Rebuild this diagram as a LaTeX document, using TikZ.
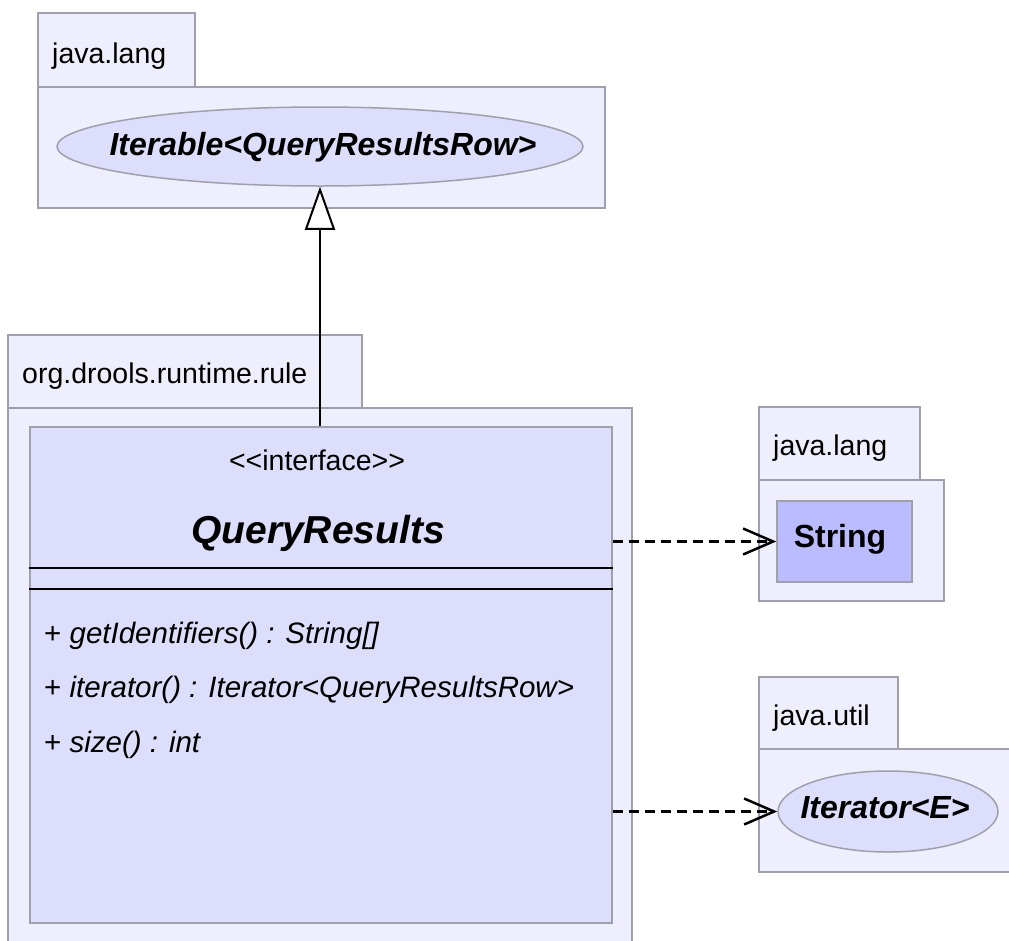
\documentclass[tikz,border=0pt]{standalone}
\usepackage{fontspec}
\setmainfont{Liberation Sans}
\usetikzlibrary{arrows.meta,shapes.geometric}
\definecolor{pkgfill}{RGB}{238,238,252}
\definecolor{pkgline}{RGB}{160,160,172}
\definecolor{clsfill}{RGB}{221,221,252}
\definecolor{strfill}{RGB}{187,187,255}
\begin{document}
\begin{tikzpicture}[x=1pt,y=-1pt,
  pkg/.style={draw=pkgline,fill=pkgfill,line width=1.5pt},
  lbl/.style={anchor=base west,inner sep=0pt,font=\fontsize{28.5}{34}\selectfont},
  mtxt/.style={anchor=base west,inner sep=0pt,font=\fontsize{29.5}{35}\selectfont},
  smalltxt/.style={inner sep=0pt,font=\fontsize{28.5}{34}\selectfont},
  bigtxt/.style={font=\fontsize{32}{38}\selectfont\bfseries\itshape},
  ell/.style={ellipse,draw=pkgline,fill=clsfill,line width=1.5pt,inner sep=0pt},
  clsbox/.style={rectangle,draw=pkgline,fill=clsfill,line width=1.5pt,inner sep=0pt},
  dep/.style={draw=black,line width=2.2pt,dash pattern=on 10pt off 6pt,-{Straight Barb[length=30pt,width=26pt,line width=2.5pt]}},
  gen/.style={draw=black,line width=2pt,-{Triangle[open,length=43pt,width=30pt,line width=2pt,fill=white]}}
]
\useasboundingbox (0,0) rectangle (1009,940);
\clip (0,0) rectangle (1009,940);
% top package java.lang
\draw[pkg] (38,13) rectangle (195,87);
\draw[pkg] (38,87) rectangle (605,208);
\node[lbl] (l1) at (52,63) {java.lang};
\node[ell,minimum width=526pt,minimum height=79pt] (iterable) at (320,146.5) {};
\node[bigtxt,anchor=base] (iterabletxt) at (323,155) {Iterable{<}QueryResultsRow{>}};
% package org.drools.runtime.rule
\draw[pkg] (8,335) rectangle (362,408);
\draw[pkg] (8,408) rectangle (632,960);
\node[lbl] (l2) at (22,383) {org.drools.runtime.rule};
\node[clsbox,minimum width=582pt,minimum height=496pt] (qr) at (321,675) {};
\node[smalltxt,anchor=base] (stereo) at (317,470) {{<}{<}interface{>}{>}};
\node[anchor=base,inner sep=0pt,font=\fontsize{39}{46}\selectfont\bfseries\itshape] (qrname) at (318,543) {QueryResults};
\draw[line width=2pt] (qr.west |- 0,568) -- (qr.east |- 0,568);
\draw[line width=2pt] (qr.west |- 0,589) -- (qr.east |- 0,589);
\node[mtxt] (m1) at (44,643) {+ \textit{getIdentifiers() : String[]}};
\node[mtxt] (m2) at (44,697) {+ \textit{iterator() : Iterator{<}QueryResultsRow{>}}};
\node[mtxt] (m3) at (44,752) {+ \textit{size() : int}};
% java.lang (String)
\draw[pkg] (759,407) rectangle (920,480);
\draw[pkg] (759,480) rectangle (944,601);
\node[lbl] (l3) at (773,455) {java.lang};
\node[clsbox,fill=strfill,minimum width=135pt,minimum height=81pt] (string) at (844.5,541.5) {};
\node[anchor=base,inner sep=0pt,font=\fontsize{32}{38}\selectfont\bfseries] (stringtxt) at (840,547) {String};
% java.util (Iterator)
\draw[pkg] (759,677) rectangle (898,749);
\draw[pkg] (759,749) rectangle (1030,872);
\node[lbl] (l4) at (773,725) {java.util};
\node[ell,minimum width=220pt,minimum height=81pt] (iterator) at (888,811.5) {};
\node[bigtxt,anchor=base,inner sep=0pt] (iteratortxt) at (885,818) {Iterator{<}E{>}};
% connectors
\draw[gen] (iterable.south |- qr.north) -- (iterable.south);
\draw[dep] (qr.east |- string.west) -- (string.west);
\draw[dep] (qr.east |- iterator.west) -- (iterator.west);
\end{tikzpicture}
\end{document}
